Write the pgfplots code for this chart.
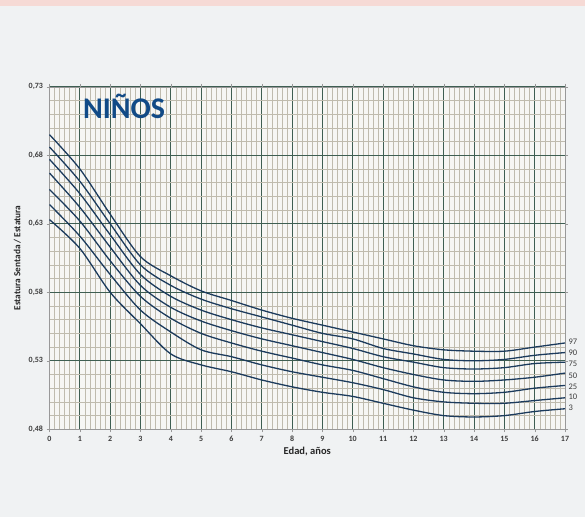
\documentclass[border=0pt]{standalone}
\usepackage{pgfplots}
\pgfplotsset{compat=1.18}
\usepackage{fontspec}
\setmainfont{Carlito}
\definecolor{bg}{HTML}{F0F2F3}
\definecolor{plotbg}{HTML}{F6F6F4}
\definecolor{pinkband}{HTML}{F6DAD5}
\definecolor{majgrid}{HTML}{3E5E52}
\definecolor{mingrid}{HTML}{BFBBAE}
\definecolor{curve}{HTML}{1B3A5C}
\definecolor{titleblue}{HTML}{114A87}
\definecolor{ticktext}{HTML}{3C3C3C}

\pgfplotstableread{
x  p97   p90   p75   p50   p25   p10   p3
0  0.695 0.686 0.677 0.667 0.655 0.644 0.633
1  0.670 0.661 0.652 0.642 0.632 0.621 0.612
2  0.637 0.630 0.622 0.613 0.603 0.593 0.580
3  0.606 0.600 0.593 0.585 0.577 0.567 0.557
4  0.592 0.585 0.577 0.569 0.561 0.551 0.535
5  0.581 0.575 0.567 0.559 0.550 0.538 0.527
6  0.574 0.568 0.560 0.552 0.543 0.533 0.522
7  0.567 0.562 0.554 0.546 0.537 0.527 0.516
8  0.561 0.556 0.549 0.541 0.532 0.522 0.511
9  0.556 0.550 0.544 0.536 0.527 0.518 0.507
10 0.551 0.546 0.539 0.531 0.523 0.514 0.504
11 0.546 0.539 0.533 0.525 0.517 0.509 0.499
12 0.541 0.535 0.529 0.520 0.511 0.503 0.494
13 0.538 0.531 0.525 0.516 0.507 0.500 0.490
14 0.537 0.530 0.524 0.515 0.506 0.499 0.489
15 0.537 0.531 0.525 0.516 0.507 0.499 0.490
16 0.540 0.534 0.528 0.518 0.510 0.501 0.493
17 0.543 0.536 0.529 0.521 0.512 0.503 0.495
}\datatable

\begin{document}
\begin{tikzpicture}[x=1pt,y=1pt]
\fill[bg] (0,0) rectangle (585,517);
\fill[pinkband] (0,511) rectangle (585,517);
\begin{axis}[
  at={(49.5pt,87.7pt)}, anchor=south west,
  scale only axis, width=515.5pt, height=342.6pt,
  xmin=0, xmax=17, ymin=0.48, ymax=0.73,
  axis background/.style={fill=plotbg},
  xtick={0,1,...,17},
  xticklabels={0,1,2,3,4,5,6,7,8,9,10,11,12,13,14,15,16,17},
  ytick={0.48,0.53,0.58,0.63,0.68,0.73},
  yticklabels={{0,48},{0,53},{0,58},{0,63},{0,68},{0,73}},
  minor x tick num=5, minor y tick num=4,
  grid=both,
  major grid style={majgrid, line width=0.8pt},
  minor grid style={mingrid, line width=0.45pt},
  axis line style={draw=gray!80},
  tick align=outside, major tick length=3pt, minor tick length=0pt,
  tick style={gray!80},
  ticklabel style={font=\fontsize{8}{9}\bfseries, text=ticktext},
  xlabel={\bfseries Edad, años},
  ylabel={\bfseries Estatura Sentada / Estatura},
  xlabel style={font=\fontsize{10.5}{11}\selectfont, text=black!85},
  ylabel style={font=\fontsize{9.3}{10}\selectfont, text=black!85},
  every axis x label/.append style={at={(axis description cs:0.5,-0.066)}, anchor=center},
  every axis y label/.append style={at={(axis description cs:-0.0625,0.5)}, anchor=center},
  clip=false,
]
\foreach \c in {p97,p90,p75,p50,p25,p10,p3}{
  \addplot[curve, line width=1.3pt, smooth, no marks] table[x=x, y=\c] {\datatable};
}
\node[font=\fontsize{30}{30}\bfseries, text=titleblue] at (axis cs:2.46,0.7156) {NIÑOS};
\node[anchor=west, font=\fontsize{8.5}{9}\selectfont, text=ticktext] at (axis cs:17,0.544) {97};
\node[anchor=west, font=\fontsize{8.5}{9}\selectfont, text=ticktext] at (axis cs:17,0.536) {90};
\node[anchor=west, font=\fontsize{8.5}{9}\selectfont, text=ticktext] at (axis cs:17,0.528) {75};
\node[anchor=west, font=\fontsize{8.5}{9}\selectfont, text=ticktext] at (axis cs:17,0.519) {50};
\node[anchor=west, font=\fontsize{8.5}{9}\selectfont, text=ticktext] at (axis cs:17,0.511) {25};
\node[anchor=west, font=\fontsize{8.5}{9}\selectfont, text=ticktext] at (axis cs:17,0.5035) {10};
\node[anchor=west, font=\fontsize{8.5}{9}\selectfont, text=ticktext] at (axis cs:17,0.4955) {3};
\end{axis}
\end{tikzpicture}
\end{document}
